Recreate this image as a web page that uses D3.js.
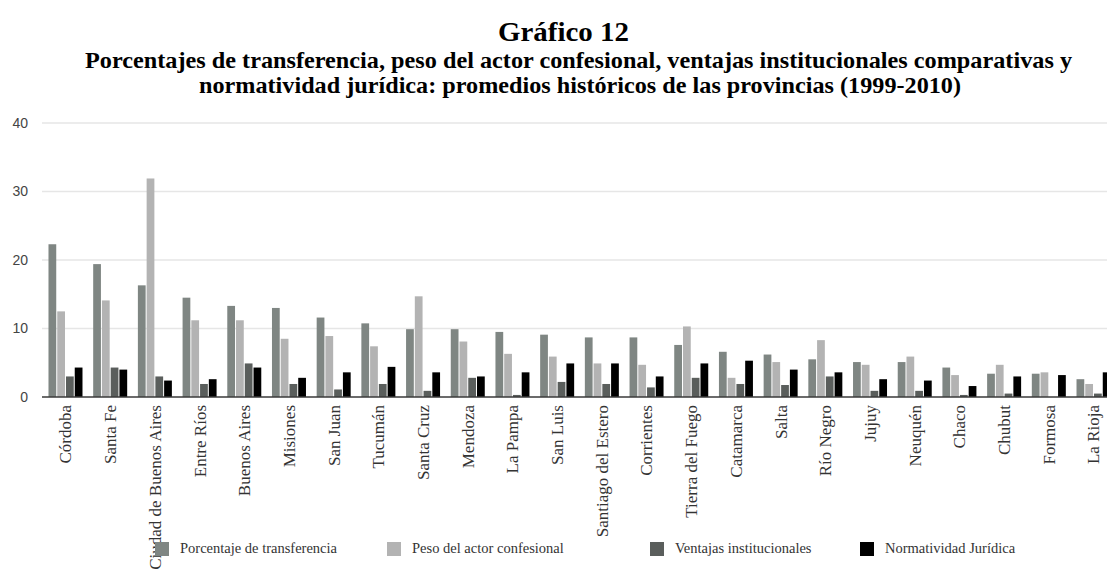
<!DOCTYPE html>
<html>
<head>
<meta charset="utf-8">
<script src="https://cdn.jsdelivr.net/npm/d3@7"></script>
<style>
  body { margin: 0; background: #fff; }
  svg { display: block; }
</style>
</head>
<body>
<svg id="chart"></svg>
<script>
const provinces = ["Córdoba", "Santa Fe", "Ciudad de Buenos Aires", "Entre Ríos", "Buenos Aires",
  "Misiones", "San Juan", "Tucumán", "Santa Cruz", "Mendoza", "La Pampa", "San Luis",
  "Santiago del Estero", "Corrientes", "Tierra del Fuego", "Catamarca", "Salta", "Río Negro",
  "Jujuy", "Neuquén", "Chaco", "Chubut", "Formosa", "La Rioja"];

const seriesNames = ["Porcentaje de transferencia", "Peso del actor confesional",
  "Ventajas institucionales", "Normatividad Jurídica"];

const transferencia = [22.3, 19.4, 16.3, 14.5, 13.3, 13.0, 11.6, 10.75, 9.9, 9.9, 9.5, 9.1,
  8.7, 8.7, 7.6, 6.6, 6.2, 5.5, 5.1, 5.1, 4.3, 3.4, 3.4, 2.6];
const pesoActor = [12.5, 14.1, 31.9, 11.2, 11.2, 8.5, 8.9, 7.4, 14.7, 8.1, 6.3, 5.9,
  4.9, 4.7, 10.3, 2.8, 5.1, 8.3, 4.7, 5.9, 3.2, 4.7, 3.6, 1.9];
const ventajas = [3.0, 4.3, 3.0, 1.9, 4.9, 1.9, 1.1, 1.9, 0.9, 2.8, 0.3, 2.2,
  1.9, 1.4, 2.8, 1.9, 1.75, 3.0, 0.9, 0.9, 0.3, 0.5, 0, 0.5];
const normatividad = [4.3, 4.0, 2.4, 2.6, 4.3, 2.8, 3.6, 4.4, 3.6, 3.0, 3.6, 4.9,
  4.9, 3.0, 4.9, 5.3, 4.0, 3.6, 2.6, 2.4, 1.6, 3.0, 3.2, 3.6];

const yTicks = [0, 10, 20, 30, 40];

const seriesValues = [transferencia, pesoActor, ventajas, normatividad];
const colors = ["#7f8683", "#b3b3b3", "#5a5e5c", "#000000"];

const W = 1107, H = 569;
const svg = d3.select("#chart").attr("width", W).attr("height", H);

// titles (widths fitted to the original)
const serif = "'Liberation Serif', 'Times New Roman', serif";
svg.append("text")
  .attr("x", 563.5).attr("y", 41)
  .attr("text-anchor", "middle")
  .attr("font-family", serif).attr("font-weight", "bold").attr("font-size", 26.5)
  .attr("textLength", 131).attr("lengthAdjust", "spacingAndGlyphs")
  .text("Gráfico 12");
svg.append("text")
  .attr("x", 578.5).attr("y", 68)
  .attr("text-anchor", "middle")
  .attr("font-family", serif).attr("font-weight", "bold").attr("font-size", 23)
  .attr("textLength", 987).attr("lengthAdjust", "spacingAndGlyphs")
  .text("Porcentajes de transferencia, peso del actor confesional, ventajas institucionales comparativas y");
svg.append("text")
  .attr("x", 580).attr("y", 93)
  .attr("text-anchor", "middle")
  .attr("font-family", serif).attr("font-weight", "bold").attr("font-size", 23)
  .attr("textLength", 762).attr("lengthAdjust", "spacingAndGlyphs")
  .text("normatividad jurídica: promedios históricos de las provincias (1999-2010)");

// scales
const x0 = d3.scaleBand()
  .domain(provinces)
  .range([42, 1117])
  .paddingInner(0.217)
  .paddingOuter(0.134);
const x1 = d3.scaleBand()
  .domain(seriesNames)
  .range([0, x0.bandwidth()]);
const y = d3.scaleLinear().domain([0, 40]).range([397, 123]);

// grid + y labels
const grid = svg.append("g");
grid.selectAll("line")
  .data(yTicks.filter(t => t > 0))
  .join("line")
  .attr("x1", 42).attr("x2", W)
  .attr("y1", d => y(d)).attr("y2", d => y(d))
  .attr("stroke", "#e6e6e6").attr("stroke-width", 1.5);

const yAxis = svg.append("g")
  .attr("transform", "translate(28,0)")
  .call(d3.axisLeft(y).tickValues(yTicks).tickSize(0).tickPadding(0));
yAxis.select(".domain").remove();
yAxis.selectAll("text")
  .attr("font-family", "'Liberation Sans', Arial, sans-serif")
  .attr("font-size", 14)
  .attr("fill", "#444");

// bars
const rows = provinces.map((p, i) => ({ name: p, values: seriesValues.map(s => s[i]) }));
const groups = svg.append("g")
  .selectAll("g")
  .data(rows)
  .join("g")
  .attr("transform", d => `translate(${x0(d.name)},0)`);

groups.selectAll("rect")
  .data(d => d.values.map((v, k) => ({ key: seriesNames[k], k, v })))
  .join("rect")
  .attr("x", d => x1(d.key) + 0.5)
  .attr("width", x1.bandwidth() - 1)
  .attr("y", d => y(d.v))
  .attr("height", d => y(0) - y(d.v))
  .attr("fill", d => colors[d.k]);

// baseline
svg.append("line")
  .attr("x1", 42).attr("x2", W)
  .attr("y1", y(0)).attr("y2", y(0))
  .attr("stroke", "#3a3a3a").attr("stroke-width", 1.5);

// x labels, rotated
const xAxis = svg.append("g")
  .attr("transform", `translate(0,${y(0)})`)
  .call(d3.axisBottom(x0).tickSize(0).tickPadding(0));
xAxis.select(".domain").remove();
xAxis.selectAll("text")
  .attr("font-family", serif)
  .attr("font-size", 17)
  .attr("fill", "#333")
  .attr("text-anchor", "end")
  .attr("transform", "rotate(-90)")
  .attr("x", -8)
  .attr("y", 0)
  .attr("dy", "0.35em");

// legend
const legendX = [155, 387, 650, 860];
const legend = svg.append("g")
  .selectAll("g")
  .data(seriesNames)
  .join("g")
  .attr("transform", (d, i) => `translate(${legendX[i]},542)`);
legend.append("rect")
  .attr("width", 14).attr("height", 14)
  .attr("fill", (d, i) => colors[i]);
legend.append("text")
  .attr("x", 25).attr("y", 10.5)
  .attr("font-family", serif)
  .attr("font-size", 14.5)
  .attr("fill", "#333")
  .text(d => d);
</script>
</body>
</html>
